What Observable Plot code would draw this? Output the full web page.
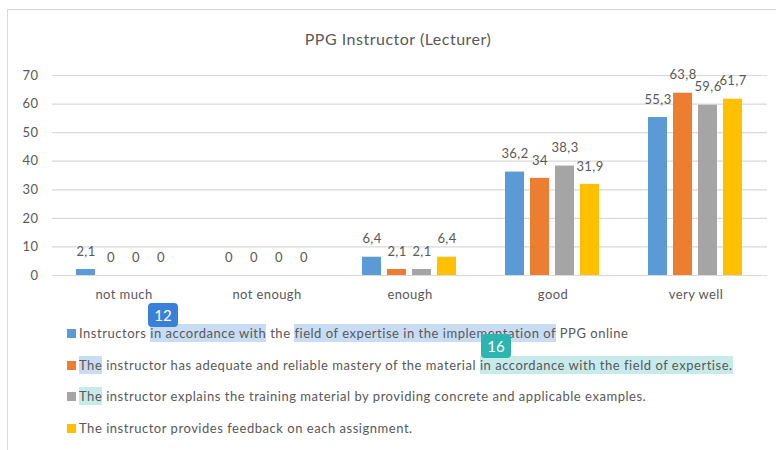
<!DOCTYPE html>
<html>
<head>
<meta charset="utf-8">
<script src="https://cdn.jsdelivr.net/npm/d3@7"></script>
<script src="https://cdn.jsdelivr.net/npm/@observablehq/plot@0.6"></script>
<style>
  body { margin: 0; background: #fff; font-family: Lato, "Open Sans", sans-serif; color: #595959; }
  #wrap { position: relative; width: 776px; height: 450px; overflow: hidden; }
  #frame { position: absolute; left: 7px; top: 9px; width: 780px; height: 460px; border: 1px solid #d9d9d9; box-sizing: border-box; }
  #title { position: absolute; top: 29px; left: 0; width: 796px; text-align: center; font-size: 16px; letter-spacing: 0.5px; }
  #chart { position: absolute; top: 60px; left: 0; }
  .leg { position: absolute; left: 67px; font-size: 13px; white-space: nowrap; line-height: 16px; letter-spacing: 0.53px; }
  .sw { display: inline-block; width: 9px; height: 9px; margin-right: 3px; vertical-align: 0px; }
  .hl { padding: 1px 0; }
  .badge { position: absolute; color: #fff; font-size: 15px; border-radius: 4px; width: 30px; height: 24px; line-height: 24px; text-align: center; letter-spacing: 0; }
</style>
</head>
<body>
<div id="wrap">
  <div id="frame"></div>
  <div id="title">PPG Instructor (Lecturer)</div>
  <div id="chart"></div>
</div>
<script>
const categories = ["not much", "not enough", "enough", "good", "very well"];
const seriesNames = [
  "Instructors in accordance with the field of expertise in the implementation of PPG online",
  "The instructor has adequate and reliable mastery of the material in accordance with the field of expertise.",
  "The instructor explains the training material by providing concrete and applicable examples.",
  "The instructor provides feedback on each assignment."
];
const series1 = [2.1, 0, 6.4, 36.2, 55.3];
const series2 = [0, 0, 2.1, 34, 63.8];
const series3 = [0, 0, 2.1, 38.3, 59.6];
const series4 = [0, 0, 6.4, 31.9, 61.7];
const colors = ["#5b9bd5", "#ed7d31", "#a5a5a5", "#ffc000"];
const yTicks = [0, 10, 20, 30, 40, 50, 60, 70];

const allSeries = [series1, series2, series3, series4];
const data = [];
categories.forEach((c, ci) => {
  allSeries.forEach((s, si) => {
    data.push({category: c, series: seriesNames[si], value: s[ci]});
  });
});
const fmt = v => String(v).replace(".", ",");

const chart = Plot.plot({
  width: 776,
  height: 250,
  marginLeft: 52,
  marginRight: 9,
  marginTop: 15,
  marginBottom: 35,
  style: {fontFamily: "Lato, 'Open Sans', sans-serif", fontSize: "13px", color: "#595959", background: "transparent", letterSpacing: "0.4px"},
  fx: {domain: categories, paddingInner: 0, paddingOuter: 0, axis: "bottom", label: null, tickSize: 0, tickPadding: 14},
  x: {domain: seriesNames, axis: null, paddingInner: 0.23, paddingOuter: 0.87},
  y: {domain: [0, 70], ticks: yTicks, label: null, tickSize: 0, tickPadding: 14},
  color: {domain: seriesNames, range: colors},
  marks: [
    Plot.ruleY(yTicks, {stroke: "#d9d9d9", strokeWidth: 1.2}),
    Plot.barY(data, {fx: "category", x: "series", y: "value", fill: "series"}),
    Plot.text(data, {fx: "category", x: "series", y: "value", text: d => fmt(d.value), dy: -18, fill: "#595959", fontSize: 13})
  ]
});
document.getElementById("chart").appendChild(chart);

// Legend (with the reviewer highlights seen in the reference)
const highlights = [
  {i: 0, text: "in accordance with", bg: "#c8dcf3"},
  {i: 0, text: "field of expertise in the implementation of", bg: "#c8dcf3"},
  {i: 1, text: "The", bg: "#c8dcf3"},
  {i: 1, text: "in accordance with the field of expertise.", bg: "#c6ebea"},
  {i: 2, text: "The", bg: "#c6ebea"}
];
const legTops = [325, 357, 388, 420];
const wrap = document.getElementById("wrap");
seriesNames.forEach((name, i) => {
  let html = name.replace(/&/g, "&amp;");
  highlights.filter(h => h.i === i).forEach(h => {
    html = html.replace(h.text, `<span class="hl" style="background:${h.bg}">${h.text}</span>`);
  });
  const div = document.createElement("div");
  div.className = "leg";
  div.style.top = legTops[i] + "px";
  div.innerHTML = `<span class="sw" style="background:${colors[i]}"></span>` + html;
  wrap.appendChild(div);
});
const badges = [
  {label: "12", left: 148, top: 303, bg: "#3a80d8"},
  {label: "16", left: 481, top: 334, bg: "#2cb4ae"}
];
badges.forEach(b => {
  const d = document.createElement("div");
  d.className = "badge";
  d.textContent = b.label;
  d.style.left = b.left + "px";
  d.style.top = b.top + "px";
  d.style.background = b.bg;
  wrap.appendChild(d);
});
</script>
</body>
</html>
